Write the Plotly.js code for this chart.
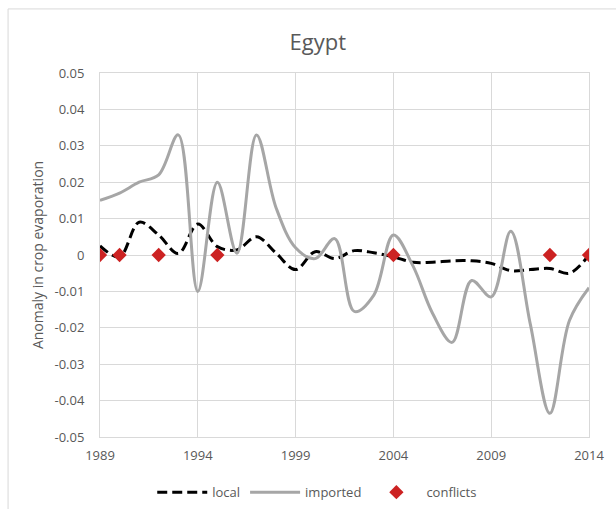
<!DOCTYPE html>
<html>
<head>
<meta charset="utf-8">
<script src="https://cdn.plot.ly/plotly-3.0.1.min.js"></script>
<style>
  html, body { margin: 0; padding: 0; background: #ffffff; }
  #chart { width: 616px; height: 509px; }
</style>
</head>
<body>
<div id="chart"></div>
<script>
const years = [1989, 1990, 1991, 1992, 1993, 1994, 1995, 1996, 1997, 1998, 1999, 2000, 2001,
               2002, 2003, 2004, 2005, 2006, 2007, 2008, 2009, 2010, 2011, 2012, 2013, 2014];

const localAnomaly = [0.0025, -0.0005, 0.009, 0.0055, 0.0004, 0.0085, 0.0023, 0.0014, 0.005, 0.0005,
                      -0.004, 0.0009, -0.001, 0.0012, 0.0006, -0.0005, -0.002, -0.002, -0.0016, -0.0016,
                      -0.0023, -0.0043, -0.004, -0.0037, -0.005, 0.0];

const importedAnomaly = [0.015, 0.017, 0.020, 0.022, 0.033, -0.010, 0.020, 0.0005, 0.033, 0.013,
                         0.002, -0.001, 0.0045, -0.0155, -0.011, 0.0055, -0.003, -0.016, -0.024, -0.007,
                         -0.0115, 0.0065, -0.019, -0.0435, -0.018, -0.009];

const conflictYears = [1989, 1990, 1992, 1995, 2004, 2012, 2014];
const conflictValues = [0, 0, 0, 0, 0, 0, 0];

const yTickValues = [0.05, 0.04, 0.03, 0.02, 0.01, 0, -0.01, -0.02, -0.03, -0.04, -0.05];
const yTickLabels = ["0.05", "0.04", "0.03", "0.02", "0.01", "0", "-0.01", "-0.02", "-0.03", "-0.04", "-0.05"];
const xTickValues = [1989, 1994, 1999, 2004, 2009, 2014];
const xTickLabels = ["1989", "1994", "1999", "2004", "2009", "2014"];

const traces = [
  {
    x: years, y: localAnomaly, name: "local", type: "scatter", mode: "lines",
    line: { color: "#000000", width: 3, dash: "10px,5px", shape: "spline", smoothing: 1 }
  },
  {
    x: years, y: importedAnomaly, name: "imported", type: "scatter", mode: "lines",
    line: { color: "#a6a6a6", width: 3, shape: "spline", smoothing: 1 }
  },
  {
    x: conflictYears, y: conflictValues, name: "conflicts", type: "scatter", mode: "markers",
    marker: { symbol: "diamond", color: "#cc2222", size: 11 }
  }
];

const gridColor = "#d9d9d9";
const fontFamily = "Open Sans, Lato, sans-serif";
const tickFont = { family: fontFamily, size: 13, color: "#595959" };

const layout = {
  width: 616, height: 509,
  paper_bgcolor: "#ffffff", plot_bgcolor: "#ffffff",
  margin: { l: 100, r: 27, t: 73, b: 72, autoexpand: false },
  title: {
    text: "Egypt",
    font: { family: fontFamily, size: 22, color: "#595959" },
    x: 0.516, xref: "container", xanchor: "center",
    y: 0.917, yref: "container", yanchor: "middle"
  },
  xaxis: {
    range: [1989, 2014],
    tickvals: xTickValues, ticktext: xTickLabels,
    showgrid: true, gridcolor: gridColor, gridwidth: 1,
    showline: true, linecolor: gridColor, mirror: true,
    zeroline: false, ticks: "", tickfont: tickFont, ticklabelstandoff: 6
  },
  yaxis: {
    range: [-0.05, 0.05],
    tickvals: yTickValues, ticktext: yTickLabels,
    showgrid: true, gridcolor: gridColor, gridwidth: 1,
    showline: true, linecolor: gridColor, mirror: true,
    zeroline: true, zerolinecolor: gridColor, zerolinewidth: 1,
    ticks: "", tickfont: tickFont, ticklabelstandoff: 12,
    title: { text: "Anomaly in crop evaporation", font: { family: fontFamily, size: 14, color: "#595959" }, standoff: 7 }
  },
  showlegend: true,
  legend: {
    orientation: "h",
    xref: "container", x: 0.515, xanchor: "center",
    yref: "container", y: 0.033, yanchor: "middle",
    font: { family: fontFamily, size: 13, color: "#595959" },
    itemwidth: 50,
    bgcolor: "rgba(0,0,0,0)"
  },
  shapes: [
    { type: "line", xref: "paper", yref: "paper", x0: -0.188, x1: 1.1, y0: 1.176, y1: 1.176,
      line: { color: gridColor, width: 1 } },
    { type: "line", xref: "paper", yref: "paper", x0: -0.188, x1: -0.188, y0: 1.176, y1: -0.3,
      line: { color: gridColor, width: 1 } }
  ]
};

Plotly.newPlot("chart", traces, layout, { displayModeBar: false, staticPlot: true });
</script>
</body>
</html>
